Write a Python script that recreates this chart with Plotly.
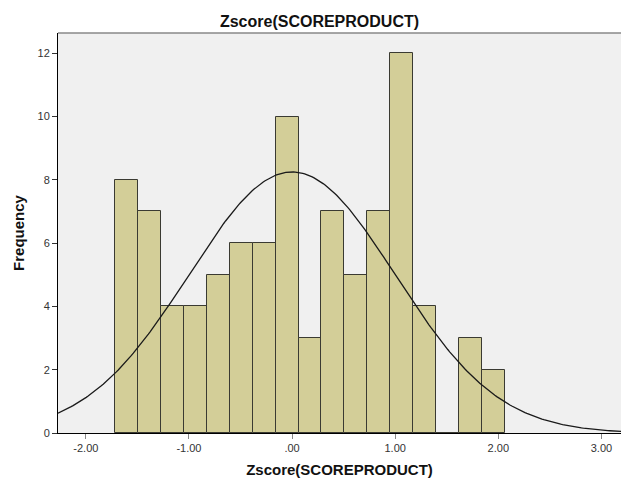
import numpy as np
import plotly.graph_objects as go

# Histogram data
bin_start = -1.716
bin_width = 0.2223
counts = [8, 7, 4, 4, 5, 6, 6, 10, 3, 7, 5, 7, 12, 4, 0, 3, 2]

# Normal curve parameters (SPSS fitted normal)
mean = 0.0
sd = 1.0
n_total = sum(counts)

x_tickvals = [-2, -1, 0, 1, 2, 3]
x_ticktext = ["-2.00", "-1.00", ".00", "1.00", "2.00", "3.00"]
y_tickvals = [0, 2, 4, 6, 8, 10, 12]

x_range = [-2.27, 3.19]
y_range = [0, 12.64]

centers = [bin_start + bin_width * (i + 0.5) for i in range(len(counts))]

curve_x = np.linspace(x_range[0], x_range[1], 300)
curve_y = n_total * bin_width / (sd * np.sqrt(2 * np.pi)) * np.exp(-0.5 * ((curve_x - mean) / sd) ** 2)

fig = go.Figure()
fig.add_trace(go.Bar(
    x=centers, y=counts, width=bin_width,
    marker=dict(color="#D3CE98", line=dict(color="#3a3a32", width=1)),
    showlegend=False, hoverinfo="skip",
))
fig.add_trace(go.Scatter(
    x=curve_x, y=curve_y, mode="lines",
    line=dict(color="#1a1a1a", width=1.3),
    showlegend=False, hoverinfo="skip",
))

fig.update_layout(
    width=621, height=481,
    margin=dict(l=58, r=0, t=33, b=48),
    paper_bgcolor="white",
    plot_bgcolor="#F0F0F0",
    font=dict(family="Liberation Sans, Arial, sans-serif", color="#333333", size=11),
    title=dict(text="<b>Zscore(SCOREPRODUCT)</b>", x=319.5 / 621, xanchor="center",
               y=1 - 21 / 481, yanchor="middle",
               font=dict(size=16, color="#111111")),
    bargap=0,
    xaxis=dict(
        range=x_range, tickvals=x_tickvals, ticktext=x_ticktext,
        showgrid=False, zeroline=False,
        showline=True, linecolor="#000000", linewidth=1,
        ticks="outside", ticklen=5, tickcolor="#888888", tickwidth=1,
        tickfont=dict(size=11, color="#333333"),
        title=dict(text="<b>Zscore(SCOREPRODUCT)</b>", standoff=11,
                   font=dict(size=15, color="#111111")),
    ),
    yaxis=dict(
        range=y_range, tickvals=y_tickvals,
        showgrid=False, zeroline=False,
        showline=True, linecolor="#000000", linewidth=1,
        ticks="outside", ticklen=5, tickcolor="#333333", tickwidth=1,
        tickfont=dict(size=11, color="#333333"),
        title=dict(text="<b>Frequency</b>", standoff=9,
                   font=dict(size=15, color="#111111")),
    ),
    shapes=[dict(type="line", xref="paper", yref="paper", x0=0, x1=1, y0=1, y1=1,
                 line=dict(color="#888888", width=1.5))],
)

fig.write_html("out.html")
